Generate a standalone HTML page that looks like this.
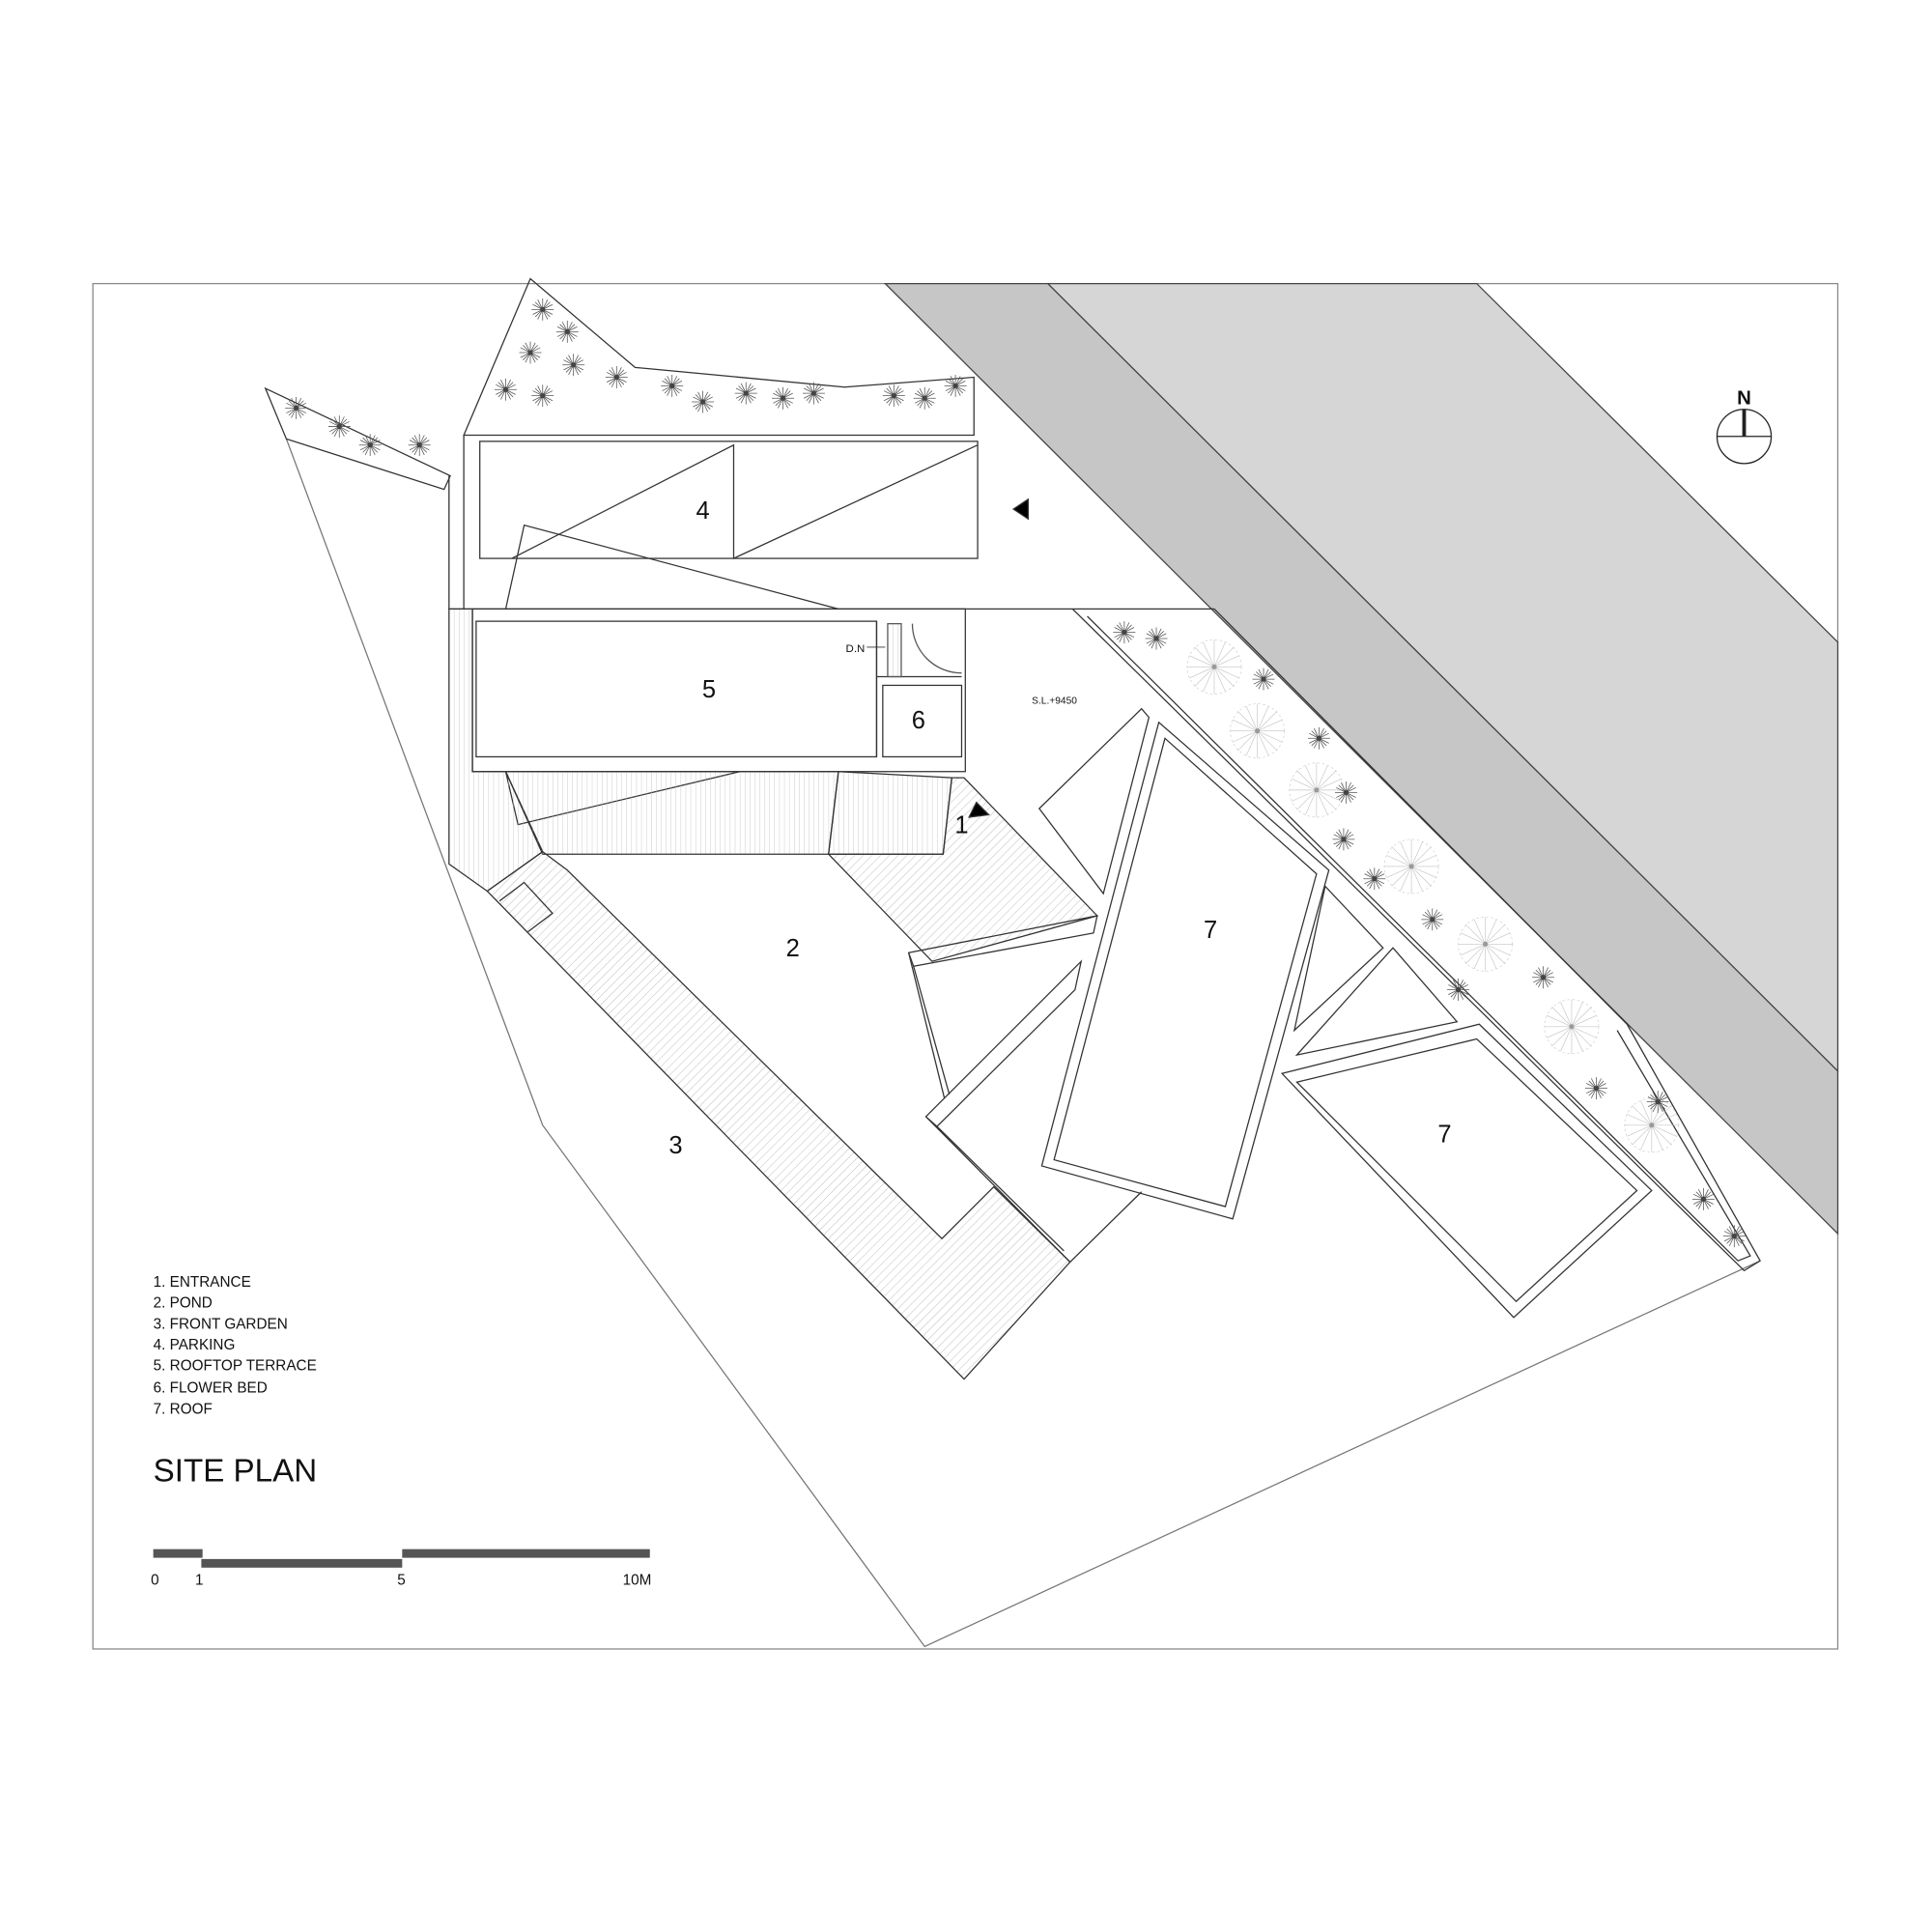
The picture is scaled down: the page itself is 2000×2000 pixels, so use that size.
<!DOCTYPE html>
<html><head><meta charset="utf-8"><style>
html,body{margin:0;padding:0;background:#fff}
svg{display:block}
text{font-family:"Liberation Sans",sans-serif;fill:#111}
</style></head><body>
<svg width="2000" height="2000" viewBox="0 0 1560 1560" xmlns="http://www.w3.org/2000/svg">
<defs>
<pattern id="h" width="5" height="5" patternUnits="userSpaceOnUse" patternTransform="rotate(45)">
<line x1="0" y1="0" x2="0" y2="5" stroke="#aaa" stroke-width="0.6"/></pattern>
<pattern id="v" width="4" height="4" patternUnits="userSpaceOnUse">
<line x1="0" y1="0" x2="0" y2="4" stroke="#bbb" stroke-width="0.6"/></pattern>
<g id="t"><path d="M-9 0H9M0-9V9M-6-6L6 6M-6 6L6-6M-8-4L8 4M-8 4L8-4M-4-8L4 8M4-8L-4 8" stroke="#555" stroke-width="0.6"/>
<circle r="2" fill="#444"/></g>
<g id="b"><circle r="22" fill="none" stroke="#ccc" stroke-width="0.5" stroke-dasharray="2 2"/>
<path d="M-22 0H22M0-22V22M-16-16L16 16M-16 16L16-16M-20-9L20 9M-20 9L20-9M-9-20L9 20M9-20L-9 20" stroke="#c4c4c4" stroke-width="0.5"/>
<circle r="2" fill="#999"/></g>
</defs>
<g transform="translate(75,229) scale(0.995) translate(-75,-229)">
<g fill="none" stroke="#333" stroke-width="1">
<rect x="75" y="229" width="1416" height="1108" stroke="#888"/>
<polygon points="718,229 850,229 1491,868 1491,1000" fill="#c6c6c6" stroke="#444"/>
<polygon points="850,229 1198,229 1491,520 1491,868" fill="#d6d6d6" stroke="#444"/>
<polyline points="232,355 440,912 750,1335 1428,1022" stroke="#777"/>
<polygon points="215,314 365,385 360,396 232,355"/>
<polygon points="430,225 515,297 685,313 790,305 790,352 376,352"/>
<polyline points="364,385 364,493 383,493"/>
<line x1="376" y1="352" x2="376" y2="493"/>
<rect x="389" y="357" width="404" height="95"/>
<polyline points="415,452 595,360 595,452 793,360"/>
<polygon points="822,412 834,404 834,420" fill="#000"/>
<polyline points="410,493 425,425 680,493"/>
<polyline points="410,625 420,668 600,625"/>
<line x1="383" y1="493" x2="985" y2="493"/>
<rect x="383" y="493" width="400" height="132"/>
<rect x="386" y="503" width="325" height="110"/>
<line x1="711" y1="503" x2="711" y2="613"/>
<line x1="711" y1="548" x2="780" y2="548"/>
<rect x="716" y="555" width="64" height="58"/>
<rect x="720" y="505" width="11" height="43" fill="url(#v)" stroke="#555"/>
<path d="M740 505 A40 40 0 0 0 780 545" stroke="#555"/>
<line x1="703" y1="524" x2="718" y2="524" stroke-width="0.7"/>
<polygon points="364,493 383,493 383,625 410,625 440,690 395,722 364,700" fill="url(#v)"/>
<polygon points="410,625 680,625 672,692 440,692" fill="url(#v)"/>
<polygon points="680,625 772,630 765,692 672,692" fill="url(#v)"/>
<polygon points="772,630 782,630 890,742 756,779 672,692 765,692" fill="url(#h)"/>
<polygon points="395,722 440,690 460,705 764,1004 806,962 868,1023 782,1118" fill="url(#h)"/>
<polyline points="405,730 425,715 448,740 428,755"/>
<polygon points="792,650 802,660 786,662" fill="#000"/>
<polygon points="737,772 890,742 887,756 741,783"/>
<line x1="741" y1="783" x2="770" y2="887"/>
<line x1="737" y1="772" x2="766" y2="890"/>
<polygon points="751,905 877,779 872,802 760,913"/>
<polyline points="751,905 868,1023 926,966"/>
<line x1="760" y1="913" x2="863" y2="1014"/>
<polygon points="843,655 926,574 932,581 895,724"/>
<polygon points="1075,718 1122,768 1050,835"/>
<polygon points="1130,768 1182,828 1052,855"/>
<polyline points="870,493 1415,1030 1428,1022 1320,830"/>
<polyline points="882,499 1410,1022 1420,1018 1312,835"/>
<line x1="985" y1="493" x2="1320" y2="830"/>
<polygon points="940,585 1078,705 1000,988 845,945"/>
<polygon points="945,598 1068,708 994,978 855,940"/>
<polygon points="1040,870 1200,830 1340,965 1228,1068"/>
<polygon points="1052,877 1198,842 1328,965 1230,1055"/>
</g>
<g>
<use href="#t" x="440" y="250"/><use href="#t" x="460" y="268"/><use href="#t" x="430" y="285"/><use href="#t" x="465" y="295"/><use href="#t" x="410" y="315"/><use href="#t" x="440" y="320"/><use href="#t" x="500" y="305"/><use href="#t" x="545" y="312"/><use href="#t" x="570" y="325"/><use href="#t" x="605" y="318"/><use href="#t" x="635" y="322"/><use href="#t" x="660" y="318"/><use href="#t" x="725" y="320"/><use href="#t" x="750" y="322"/><use href="#t" x="775" y="312"/><use href="#t" x="240" y="330"/><use href="#t" x="275" y="345"/><use href="#t" x="300" y="360"/><use href="#t" x="340" y="360"/>
<use href="#b" x="985" y="540"/><use href="#b" x="1020" y="592"/><use href="#b" x="1068" y="640"/><use href="#b" x="1145" y="702"/><use href="#b" x="1205" y="765"/><use href="#b" x="1275" y="832"/><use href="#b" x="1340" y="912"/>
<use href="#t" x="912" y="512"/><use href="#t" x="938" y="517"/><use href="#t" x="1025" y="550"/><use href="#t" x="1070" y="598"/><use href="#t" x="1092" y="642"/><use href="#t" x="1090" y="680"/><use href="#t" x="1115" y="712"/><use href="#t" x="1162" y="745"/><use href="#t" x="1183" y="802"/><use href="#t" x="1252" y="792"/><use href="#t" x="1295" y="882"/><use href="#t" x="1345" y="893"/><use href="#t" x="1382" y="972"/><use href="#t" x="1407" y="1002"/>
</g>
<g fill="none" stroke="#222"><circle cx="1415" cy="353" r="22"/><line x1="1393" y1="353" x2="1437" y2="353"/><line x1="1415" y1="331" x2="1415" y2="353" stroke-width="3"/></g>
<text x="1415" y="327" font-size="16" font-weight="bold" text-anchor="middle">N</text>
<g font-size="20" text-anchor="middle">
<text x="570" y="420">4</text><text x="575" y="565">5</text><text x="745" y="590">6</text>
<text x="780" y="675">1</text><text x="643" y="775">2</text><text x="548" y="935">3</text>
<text x="982" y="760">7</text><text x="1172" y="926">7</text>
</g>
<text x="686" y="528" font-size="9">D.N</text>
<text x="837" y="570" font-size="8">S.L.+9450</text>
<g font-size="12">
<text x="124" y="1043">1. ENTRANCE</text><text x="124" y="1060">2. POND</text><text x="124" y="1077">3. FRONT GARDEN</text><text x="124" y="1094">4. PARKING</text><text x="124" y="1111">5. ROOFTOP TERRACE</text><text x="124" y="1129">6. FLOWER BED</text><text x="124" y="1146">7. ROOF</text>
</g>
<text x="124" y="1201" font-size="26">SITE PLAN</text>
<g fill="#555"><rect x="124" y="1256" width="40" height="7"/><rect x="163" y="1264" width="163" height="7"/><rect x="326" y="1256" width="201" height="7"/></g>
<g font-size="12"><text x="122" y="1285">0</text><text x="158" y="1285">1</text><text x="322" y="1285">5</text><text x="505" y="1285">10M</text></g>
</g>
</svg>
</body></html>
